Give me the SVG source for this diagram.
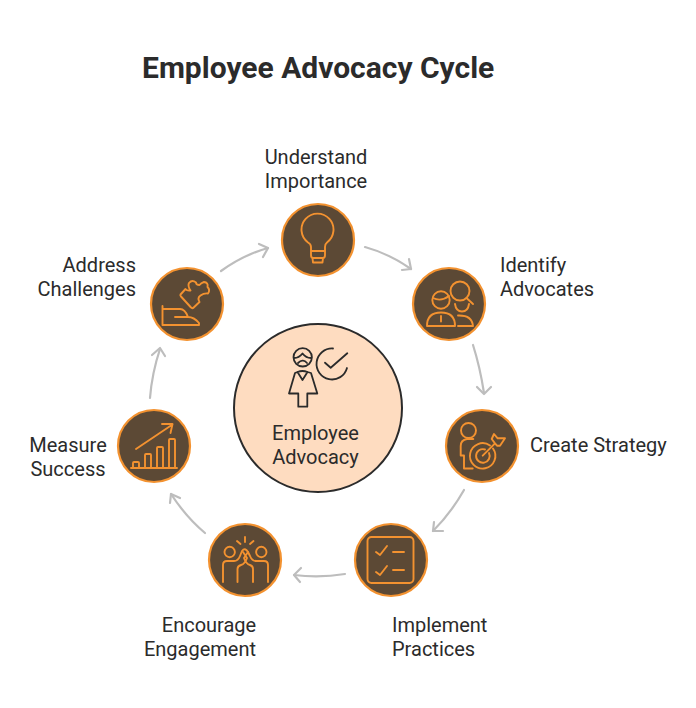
<svg xmlns="http://www.w3.org/2000/svg" width="696" height="708" viewBox="0 0 696 708">
<style>
text{font-family:Roboto,"Liberation Sans",sans-serif;font-size:20px;fill:#2b2b2b}
.t{font-size:30px;font-weight:700}
.m{text-anchor:middle}.e{text-anchor:end}
.n{fill:#5c4935;stroke:#f39230;stroke-width:2.2}
.i{fill:none;stroke:#f39230;stroke-width:1.9;stroke-linecap:round;stroke-linejoin:round}
.c{fill:none;stroke:#bdbdbd;stroke-width:2.2;stroke-linecap:round;stroke-linejoin:round}
.k{fill:none;stroke:#2b2b2b;stroke-width:1.8;stroke-linecap:round;stroke-linejoin:round}
</style>
<rect width="696" height="708" fill="#fff"/>
<text id="title" class="t" x="142" y="78">Employee Advocacy Cycle</text>
<g id="connectors">
<path class="c" d="M365 247Q390 254 411 269"/><path class="c" d="M402 270L411 269L409 259"/>
<path class="c" d="M473 345Q480 367 484 393"/><path class="c" d="M477 387L484 394L491 387"/>
<path class="c" d="M464 490Q451 513 433 531"/><path class="c" d="M434 522L433 531L443 531"/>
<path class="c" d="M345 574Q320 578 294 575"/><path class="c" d="M301 568L294 575L300 582"/>
<path class="c" d="M205 533Q186 517 171 494"/><path class="c" d="M170 503L171 494L180 498"/>
<path class="c" d="M150 398Q152 373 160 349"/><path class="c" d="M152 355L160 348L165 356"/>
<path class="c" d="M221 271Q243 255 268 248"/><path class="c" d="M259 244L268 248L263 257"/>
</g>
<g id="center">
<circle cx="318" cy="408" r="84" fill="#fedcc0" stroke="#2b2b2b" stroke-width="2"/>
<circle class="k" cx="302.700" cy="357.300" r="9.200"/>
<path class="k" d="M294 358Q299 358 302.500 353.500Q306 358 311 358M298 363Q300.500 360.500 302.700 360.700Q305 360.500 307 363"/>
<path class="k" d="M297.500 372L295 373L289 393.500H298.300V406.700H307.300V393.500H317.300L311 373L307.500 372L302.500 380ZM297.500 372Q302.500 370 307.500 372"/>
<path class="k" d="M333 348.500A15.500 15.500 0 1 0 347 368"/><path class="k" d="M325 362.700L330.700 367.700L347.300 353.300"/>
<text class="m" x="315.500" y="440">Employee</text>
<text class="m" x="315.500" y="464">Advocacy</text>
</g>
<g id="understand">
<circle class="n" cx="318" cy="240" r="36"/>
<path class="i" d="M311 251V247Q311 244 308 242.500A16 16 0 1 1 327 242.500Q325 244 325 247V251ZM311 251V255Q311 258 313 258H323Q325 258 325 255V251M312.500 258L313 262.500H322.500L323 258"/>
<text class="m" x="316" y="164">Understand</text><text class="m" x="316" y="188">Importance</text>
</g>
<g id="identify">
<circle class="n" cx="449" cy="304" r="36"/>
<circle class="i" cx="441" cy="300" r="8.700"/><path class="i" d="M433 298Q441 302 449 296"/>
<path class="i" d="M427 326Q427 312.500 441 312.500Q455 312.500 455 326ZM441 316V321.500"/>
<circle class="i" cx="460" cy="291" r="9.500"/><path class="i" d="M466.500 298L473 304"/>
<path class="i" d="M455 304Q456 311.500 462 311.500Q468 311.500 469 304"/><path class="i" d="M458 315.500Q472 315 473 326H458"/>
<text x="500" y="272">Identify</text><text x="500" y="296">Advocates</text>
</g>
<g id="strategy">
<circle class="n" cx="482" cy="446" r="36"/>
<circle class="i" cx="468.500" cy="430.500" r="7.500"/>
<path class="i" d="M473.300 439H467Q460.700 440 460.700 446V455.500H464V468.500H472.700"/>
<path class="i" d="M490 445.500A12.700 12.700 0 1 0 493 448.500"/>
<path class="i" d="M485 449.500A6.800 6.800 0 1 0 489 453"/>
<path class="i" d="M482.700 455.700L495 443.300M495 443.300L491.700 439L494 434L497.700 438.300H505L500 445.700H497Z"/>
<text x="530" y="452">Create Strategy</text>
</g>
<g id="implement">
<circle class="n" cx="391" cy="560" r="36"/>
<rect class="i" x="367.500" y="537" width="46" height="46" rx="4"/>
<path class="i" d="M376 552L380 555L387 546M376 572L380 575L387 566M393 552H404M393 570H404"/>
<text x="392" y="632">Implement</text><text x="392" y="656">Practices</text>
</g>
<g id="encourage">
<circle class="n" cx="245" cy="560" r="36"/>
<circle class="i" cx="229.700" cy="552" r="5.200"/><circle class="i" cx="261.300" cy="552" r="5.200"/>
<path class="i" d="M245 537V542M237 541L240.500 544M253.500 541L250 544"/>
<path class="i" d="M223 582V565Q223 561 227 561H234Q238 561 240 556L242 551Q245 547 248 552L250 556Q252 561 256 561H264Q268 561 268 565V582"/>
<path class="i" d="M237.500 582V569Q237.500 566 241 565Q245 564 247 558L243 552M253 582V569Q253 566 250 565Q246 564 244 558L248 552"/>
<text class="m" x="209" y="632">Encourage</text><text class="e" x="256" y="656">Engagement</text>
</g>
<g id="measure">
<circle class="n" cx="154" cy="446" r="36"/>
<path class="i" d="M131 468H177M133 468V463Q133 462 134 462H138Q139 462 139 463V468M145 468V455Q145 454 146 454H150Q151 454 151 455V468M157 468V448Q157 447 158 447H162Q163 447 163 448V468M169 468V440Q169 439 170 439H174Q175 439 175 440V468M136 449L172.500 424.500M162 424H172.500L170.500 433"/>
<text class="m" x="68" y="452">Measure</text><text class="m" x="68" y="476">Success</text>
</g>
<g id="address">
<circle class="n" cx="187" cy="304" r="36"/>
<path class="i" d="M162.500 306V325M162.500 309H180Q185 309 188 317Q194 317 199 323V325H162.500M175 317H188"/>
<path class="i" d="M181 296.500L191 307.500Q192.300 309 193.700 307.500L199.500 302Q197 298 200.500 295.500Q204 293 208 293.500Q210.500 290 207.500 287Q208.500 282.500 204 282Q201 283 199.500 285Q196 285 196 282.500Q192 279.500 189 283Q187.500 286 190.500 290.500Q187 291 185.500 289L180.500 294.500Q180 295.500 181 296.500Z"/>
<text class="e" x="136" y="272">Address</text><text class="e" x="136" y="296">Challenges</text>
</g>
</svg>
